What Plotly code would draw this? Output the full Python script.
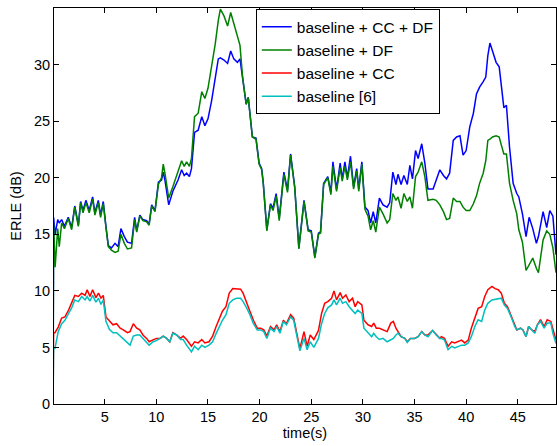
import plotly.graph_objects as go

# Upper curves: time (s), ERLE (dB)
t_up = [0.0, 0.05, 0.2, 0.45, 0.6, 0.83, 1.1, 1.47, 1.8, 2.1, 2.45, 2.67, 2.9, 3.18, 3.5, 3.83, 4.05, 4.38, 4.6, 4.86,
        5.12, 5.35, 5.65, 6.0, 6.3, 6.57, 6.9, 7.2, 7.6, 7.9, 8.1, 8.4, 8.7, 9.06, 9.3, 9.55, 9.87, 10.2, 10.5, 10.67,
        10.83, 11.2, 11.6, 12.1, 12.45, 12.7, 12.93, 13.2, 13.4, 13.7, 14.05, 14.4, 14.7, 15.0, 15.35, 15.7, 16.0, 16.2,
        16.55, 16.9, 17.2, 17.5, 17.85, 18.1, 18.35, 18.7, 18.9, 19.1, 19.3, 19.65, 19.95, 20.2, 20.35, 20.7, 21.05,
        21.3, 21.6, 21.9, 22.35, 22.7, 23.0, 23.4, 23.8, 24.3, 24.7, 25.0, 25.35, 25.7, 25.9, 26.2, 26.6, 26.9, 27.1,
        27.45, 27.8, 28.0, 28.26, 28.5, 28.8, 29.1, 29.4, 29.6, 29.9, 30.2, 30.5, 30.75, 31.0, 31.25, 31.6, 31.95,
        32.35, 32.6, 32.9, 33.2, 33.4, 33.7, 33.97, 34.3, 34.55, 34.8, 35.1, 35.35, 35.7, 36.0, 36.3, 36.8, 37.1,
        37.45, 37.8, 38.1, 38.4, 38.75, 39.07, 39.4, 39.7, 40.0, 40.35, 40.7, 41.0, 41.3, 41.65, 41.9, 42.1, 42.3,
        42.55, 42.9, 43.2, 43.4, 43.65, 43.9, 44.2, 44.55, 44.9, 45.1, 45.45, 45.8, 46.1, 46.45, 46.8, 47.0, 47.45,
        47.8, 48.1, 48.4, 48.7]
cc_df = [0.0, 16.5, 15.0, 16.3, 16.0, 16.3, 15.7, 16.5, 15.6, 17.5, 15.8, 17.9, 17.1, 18.0, 17.1, 18.3, 16.9, 18.0, 16.7, 17.9,
         15.7, 14.0, 13.8, 14.2, 13.9, 15.5, 14.8, 14.3, 14.2, 16.5, 15.3, 16.7, 16.3, 16.2, 15.9, 17.6, 17.1, 19.6, 19.8, 20.5,
         19.8, 17.6, 18.8, 19.8, 20.7, 20.2, 20.4, 20.1, 20.8, 24.0, 24.2, 25.4, 24.6, 25.2, 26.8, 28.6, 30.5, 30.6,
         30.4, 30.1, 31.2, 30.5, 30.2, 30.5, 28.9, 26.5, 27.1, 25.4, 23.6, 23.5, 21.3, 20.8, 19.6, 15.4, 17.7,
         17.3, 18.6, 16.4, 20.5, 18.9, 22.1, 19.2, 13.8, 18.0, 15.4, 15.3, 13.0, 15.1, 15.2, 19.5, 20.1, 18.7, 21.4,
         19.0, 21.3, 19.9, 21.4, 20.0, 21.9, 19.2, 20.8, 19.0, 21.4, 17.4, 17.1, 16.0, 17.0, 16.0, 18.2, 17.6,
         17.4, 17.8, 20.5, 19.4, 20.3, 19.4, 20.2, 19.4, 21.1, 19.9, 22.4, 21.7, 23.0, 21.3, 19.0, 19.0, 19.8,
         20.7, 20.2, 19.9, 20.4, 23.3, 23.6, 23.7, 22.0, 22.4, 24.5, 25.7, 27.4, 28.0, 28.5, 28.9, 30.8, 31.9,
         31.2, 30.2, 29.8, 28.0, 26.2, 26.4, 22.7, 19.5, 18.6, 18.3, 16.8, 14.8, 16.5, 15.5, 14.2, 14.8, 17.0,
         15.6, 17.1, 16.6, 13.2]
df = [0.0, 16.0, 12.1, 15.5, 13.9, 16.0, 15.5, 16.4, 15.4, 17.4, 15.7, 17.8, 16.9, 17.8, 16.9, 18.1, 16.7, 17.8, 16.5, 17.7,
      15.6, 13.9, 13.6, 13.4, 13.5, 15.0, 14.2, 13.7, 13.8, 16.3, 15.2, 16.6, 16.2, 16.1, 15.8, 17.5, 17.0, 19.4, 20.0, 21.2,
      20.4, 18.2, 19.2, 20.5, 21.5, 21.0, 21.4, 21.0, 21.7, 25.4, 25.7, 27.6, 27.0, 27.9, 29.8, 31.8, 33.9, 34.9,
      34.3, 33.4, 34.6, 33.6, 32.4, 31.7, 28.9, 26.5, 27.1, 25.4, 23.6, 23.4, 21.2, 20.7, 19.5, 15.3, 17.6,
      17.1, 18.4, 16.2, 20.3, 18.7, 22.0, 19.1, 13.7, 17.9, 15.3, 15.2, 12.9, 15.0, 15.1, 19.4, 20.0, 18.5, 21.0,
      18.8, 20.9, 19.7, 21.0, 19.8, 21.4, 19.0, 20.6, 18.8, 21.2, 17.2, 16.6, 15.4, 16.2, 15.2, 17.4, 16.8,
      16.0, 16.3, 18.6, 18.0, 18.3, 17.3, 18.6, 17.9, 18.3, 17.3, 20.1, 20.5, 21.4, 20.1, 18.0, 18.1, 18.0,
      17.6, 17.0, 16.3, 16.4, 18.2, 17.9, 17.9, 17.4, 17.1, 17.1, 17.7, 18.4, 19.5, 20.4, 21.5, 23.3, 23.4,
      23.6, 23.7, 23.6, 22.9, 22.1, 22.1, 19.5, 18.0, 16.8, 15.4, 14.3, 11.8, 12.3, 12.9, 12.0, 11.6, 14.5,
      15.3, 15.0, 13.8, 11.6]

# Lower curves
t_lo = [0.0, 0.05, 0.18, 0.5, 0.83, 1.15, 1.5, 1.8, 2.1, 2.45, 2.77, 3.1, 3.3, 3.57, 3.83, 4.15, 4.4, 4.64, 4.86, 5.12,
        5.45, 5.8, 6.15, 6.5, 6.8, 7.2, 7.45, 7.77, 8.1, 8.4, 8.7, 9.06, 9.3, 9.7, 10.0, 10.35, 10.67, 11.0, 11.3, 11.6,
        11.96, 12.35, 12.6, 12.93, 13.4, 13.7, 14.05, 14.4, 14.7, 15.1, 15.45, 15.77, 16.1, 16.4, 16.74, 17.06, 17.4,
        17.77, 18.16, 18.4, 18.74, 19.06, 19.4, 19.77, 20.1, 20.4, 20.7, 21.05, 21.4, 21.65, 21.97, 22.3, 22.6, 23.0,
        23.3, 23.6, 23.9, 24.3, 24.6, 24.9, 25.25, 25.7, 26.0, 26.3, 26.6, 26.97, 27.2, 27.45, 27.8, 28.03, 28.35,
        28.67, 29.0, 29.25, 29.5, 29.9, 30.1, 30.5, 30.85, 31.05, 31.3, 31.6, 31.95, 32.35, 32.7, 32.95, 33.2, 33.4,
        33.7, 34.06, 34.3, 34.6, 35.0, 35.35, 35.7, 36.0, 36.3, 36.75, 37.1, 37.45, 37.6, 37.9, 38.25, 38.6, 38.9,
        39.2, 39.55, 39.87, 40.2, 40.5, 40.84, 41.16, 41.5, 41.8, 42.1, 42.5, 42.8, 43.1, 43.4, 43.7, 44.0, 44.4,
        44.7, 44.9, 45.27, 45.5, 45.8, 46.05, 46.35, 46.65, 46.9, 47.2, 47.55, 47.85, 48.2, 48.4, 48.7]
cc = [0.0, 6.3, 6.3, 6.8, 7.6, 7.7, 8.3, 8.9, 9.6, 9.5, 9.8, 9.6, 10.1, 9.5, 10.1, 9.4, 9.8, 9.35, 9.6, 7.7,
      7.4, 7.0, 7.1, 6.7, 6.55, 6.3, 6.4, 7.1, 6.7, 6.55, 6.1, 5.8, 5.5, 5.7, 5.8, 5.8, 6.0, 5.8, 5.5, 6.3,
      6.1, 5.8, 6.0, 5.7, 5.1, 5.5, 5.4, 5.7, 5.4, 5.5, 6.0, 6.8, 7.6, 8.2, 8.6, 9.8, 10.2,
      10.2, 10.15, 9.8, 8.9, 8.2, 7.4, 6.7, 6.7, 6.55, 6.0, 6.85, 6.55, 7.0, 6.4, 7.4, 7.1, 7.9,
      7.6, 6.25, 4.9, 6.4, 5.1, 6.1, 5.7, 6.5, 8.0, 8.9, 9.05, 9.35, 10.0, 9.2, 9.84, 9.35, 9.64,
      9.05, 9.35, 8.6, 9.05, 8.76, 7.4, 7.0, 6.85, 7.15, 6.7, 6.7, 6.55, 6.4, 7.15, 7.3, 6.7, 6.4,
      5.95, 5.8, 5.5, 5.8, 5.8, 5.95, 6.4, 6.1, 6.1, 6.5, 6.1, 5.8, 5.95, 5.8, 5.1, 5.5, 5.4,
      5.5, 5.65, 5.4, 5.65, 6.7, 7.7, 8.45, 8.6, 9.5, 10.1, 10.4, 10.2, 10.1, 9.8, 8.9, 8.6, 7.7,
      6.85, 6.55, 6.7, 6.55, 5.95, 6.85, 6.55, 6.4, 7.0, 7.45, 6.85, 7.45, 7.3, 6.55, 5.65]
base = [0.0, 4.9, 4.9, 6.4, 7.1, 7.4, 8.0, 8.5, 9.2, 9.05, 9.5, 9.2, 9.5, 9.1, 9.6, 9.0, 9.35, 8.8, 9.2, 7.3,
        6.6, 6.3, 6.3, 6.0, 5.7, 5.4, 5.2, 6.0, 6.1, 6.1, 5.8, 5.5, 5.2, 5.5, 5.6, 5.8, 6.0, 5.8, 5.5, 6.25,
        6.1, 5.7, 5.7, 5.2, 4.6, 5.1, 4.8, 5.2, 5.0, 5.2, 5.5, 6.2, 6.9, 7.4, 7.9, 8.9, 9.2,
        9.35, 9.35, 9.05, 8.5, 7.9, 7.1, 6.55, 6.55, 6.4, 5.8, 6.7, 6.4, 6.85, 6.25, 7.3, 7.0, 7.7,
        7.4, 6.0, 4.7, 5.8, 4.8, 5.5, 5.0, 5.8, 7.1, 8.0, 8.5, 8.76, 9.2, 8.76, 9.35, 8.9, 9.05,
        8.6, 8.3, 8.0, 8.3, 8.0, 6.7, 6.25, 5.95, 6.25, 5.95, 5.7, 5.8, 5.5, 5.65, 5.8, 6.1, 6.25,
        5.95, 5.8, 5.45, 5.8, 5.8, 5.95, 6.4, 6.1, 5.95, 6.5, 6.1, 5.8, 5.8, 5.65, 4.8, 5.1, 4.95,
        5.1, 5.2, 5.2, 5.4, 5.95, 6.85, 7.45, 7.3, 8.3, 8.9, 9.2, 9.25, 9.35, 9.35, 8.75, 8.45, 7.6,
        6.85, 6.55, 6.7, 6.55, 5.95, 6.85, 6.55, 6.25, 7.0, 7.3, 6.7, 7.15, 7.15, 6.25, 5.35]

names = ["baseline + CC + DF", "baseline + DF", "baseline + CC", "baseline [6]"]
colors = ["#0000FF", "#008000", "#FF0000", "#00BFBF"]
x_ticks = [5, 10, 15, 20, 25, 30, 35, 40, 45]
y_ticks = [0, 5, 10, 15, 20, 25, 30]

fig = go.Figure()
series = [(t_up, cc_df), (t_up, df), (t_lo, cc), (t_lo, base)]
for (tx, ys), nm, col in zip(series, names, colors):
    fig.add_trace(go.Scatter(x=tx, y=ys, mode="lines", name=nm,
                             line=dict(color=col, width=1.5)))

font = "Liberation Sans, Arial, Helvetica, sans-serif"
fig.update_layout(
    width=557, height=446,
    margin=dict(l=54, r=1, t=8, b=42, autoexpand=False),
    paper_bgcolor="white", plot_bgcolor="white",
    font=dict(family=font, size=14.5, color="black"),
    showlegend=True,
    legend=dict(x=0.402, y=0.997, xanchor="left", yanchor="top",
                bgcolor="white", bordercolor="black", borderwidth=1,
                font=dict(size=15.5), tracegroupgap=0),
)
fig.update_xaxes(range=[0.09, 48.7], tickvals=x_ticks, ticks="inside", ticklen=5,
                 tickcolor="black", showline=True, linecolor="black", linewidth=1,
                 mirror="ticks", showgrid=False, zeroline=False, automargin=False,
                 tickfont=dict(size=14.5),
                 title=dict(text="time(s)", standoff=2, font=dict(size=14.5)))
fig.update_yaxes(range=[0, 35], tickvals=y_ticks, ticks="inside", ticklen=5,
                 tickcolor="black", showline=True, linecolor="black", linewidth=1,
                 mirror="ticks", showgrid=False, zeroline=False, automargin=False,
                 tickfont=dict(size=14.5),
                 title=dict(text="ERLE (dB)", standoff=8, font=dict(size=14.5)))

fig.write_html("out.html", config={"displayModeBar": False},
               post_script="document.body.style.margin='0';document.body.style.padding='0';")
